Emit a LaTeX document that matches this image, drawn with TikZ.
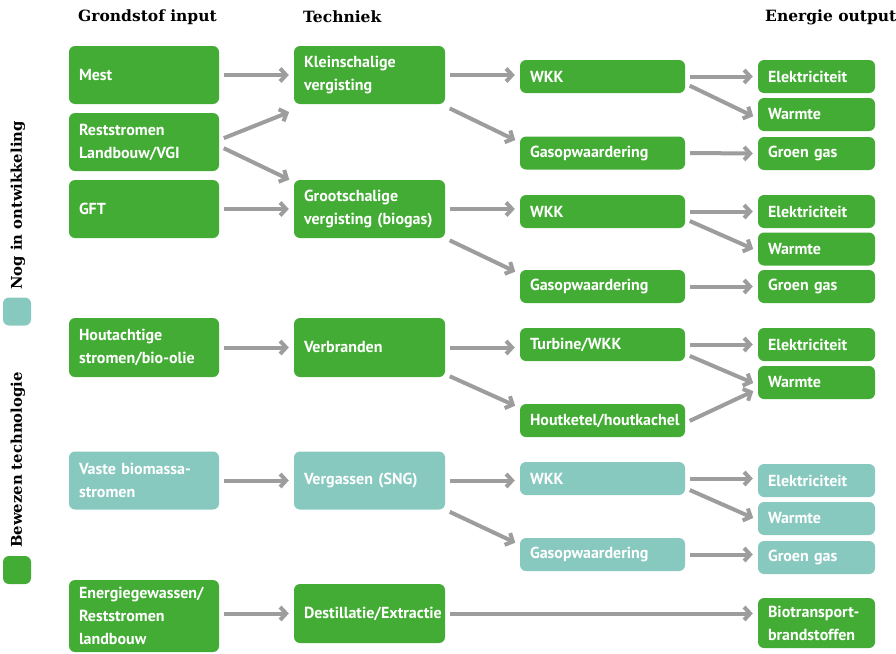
\documentclass[tikz,border=0pt]{standalone}
\usepackage{fontspec}
\setmainfont{PT Sans}
\newfontfamily\headfont{DejaVu Serif}
\usetikzlibrary{arrows.meta}
\definecolor{bewezen}{HTML}{43AC34}
\definecolor{ontw}{HTML}{88C9BF}
\definecolor{pijl}{HTML}{9D9D9D}

\begin{document}
\begin{tikzpicture}[x=1pt, y=-1pt]
  \tikzstyle{box}=[rounded corners=6pt, fill=bewezen, text=white, inner xsep=10pt, inner ysep=0pt, align=left, font=\fontsize{16}{23}\selectfont\bfseries]
  \tikzstyle{nieuw}=[fill=ontw]
  \tikzstyle{inp}=[box, text width=130pt, minimum height=58pt]
  \tikzstyle{tech}=[box, text width=131pt, minimum height=58pt]
  \tikzstyle{conv}=[box, text width=145pt, minimum height=33pt]
  \tikzstyle{outp}=[box, text width=97pt, minimum height=33pt]
  \tikzstyle{head}=[inner sep=0pt, font=\headfont\bfseries\fontsize{15.5}{18}\selectfont]
  \tikzstyle{legend}=[head, rotate=90, anchor=west, font=\headfont\bfseries\fontsize{14.8}{18}\selectfont]
  \tikzstyle{arr}=[draw=pijl, line width=4pt, -{Straight Barb[length=6pt,width=13pt]}, shorten >=5pt, shorten <=5pt]
  \useasboundingbox (0,0) rectangle (896,653);

  \node[head, anchor=west] (hin) at (78,17) {Grondstof input};
  \node[head, anchor=west] (htech) at (303,17) {Techniek};
  \node[head, anchor=west] (hout) at (765,17) {Energie output};

  % legenda
  \node[legend] (lnog) at (18,290) {Nog in ontwikkeling};
  \node[rounded corners=6pt, fill=ontw, minimum size=28pt] (snog) at (17,311.5) {};
  \node[legend] (lbew) at (18,548) {Bewezen technologie};
  \node[rounded corners=6pt, fill=bewezen, minimum size=28pt] (sbew) at (17,570) {};

  % vergisting
  \node[inp] (mest) at (144,75) {Mest};
  \node[inp] (rest) at (144,142) {Reststromen\\Landbouw/VGI};
  \node[inp] (gft) at (144,209) {GFT};
  \node[tech] (klein) at (369.5,75) {Kleinschalige\\vergisting};
  \node[tech] (groot) at (369.5,209) {Grootschalige\\vergisting (biogas)};
  \draw[arr] (mest.east) -- (klein.west |- mest.east);
  \draw[arr] ([yshift=2pt]rest.east) -- ([yshift=-6pt]klein.south west);
  \draw[arr] ([yshift=-4pt]rest.east) -- ([yshift=-2pt]groot.north west);
  \draw[arr] (gft.east) -- (groot.west |- gft.east);

  \node[conv] (wkka) at (602.5,76.5) {WKK};
  \node[conv] (gasa) at (602.5,153) {Gasopwaardering};
  \node[outp] (elka) at (816.5,76.5) {Elektriciteit};
  \node[outp] (warma) at (816.5,114.5) {Warmte};
  \node[outp] (groena) at (816.5,153.5) {Groen gas};
  \draw[arr] (klein.east) -- (wkka.west |- klein.east);
  \draw[arr] ([yshift=-2pt]klein.south east) -- ([yshift=-6pt]gasa.north west);
  \draw[arr] (wkka.east) -- (elka.west);
  \draw[arr] ([yshift=-7pt]wkka.east) -- ([yshift=-4pt]warma.west);
  \draw[arr] (gasa.east) -- (groena.west);

  \node[conv] (wkkb) at (602.5,211.5) {WKK};
  \node[conv] (gasb) at (602.5,286.5) {Gasopwaardering};
  \node[outp] (elkb) at (816.5,211.5) {Elektriciteit};
  \node[outp] (warmb) at (816.5,249) {Warmte};
  \node[outp] (groenb) at (816.5,286.5) {Groen gas};
  \draw[arr] (groot.east) -- (wkkb.west |- groot.east);
  \draw[arr] (groot.south east) -- ([yshift=-4pt]gasb.north west);
  \draw[arr] (wkkb.east) -- (elkb.west);
  \draw[arr] ([yshift=-7.5pt]wkkb.east) -- ([yshift=-2pt]warmb.west);
  \draw[arr] (gasb.east) -- (groenb.west);

  % verbranding
  \node[inp, minimum height=59pt] (houta) at (144,347.5) {Houtachtige\\stromen/bio-olie};
  \node[tech, minimum height=59pt] (verb) at (369.5,347.5) {Verbranden};
  \node[conv] (turb) at (602.5,344.5) {Turbine/WKK};
  \node[conv] (ketel) at (602.5,420.5) {Houtketel/houtkachel};
  \node[outp] (elkc) at (816.5,344.5) {Elektriciteit};
  \node[outp] (warmc) at (816.5,382.5) {Warmte};
  \draw[arr] (houta.east) -- (verb.west);
  \draw[arr] (verb.east) -- (turb.west |- verb.east);
  \draw[arr] ([yshift=3pt]verb.south east) -- ([yshift=-4pt]ketel.north west);
  \draw[arr] (turb.east) -- (elkc.west);
  \draw[arr] ([yshift=-9.5pt]turb.east) -- ([yshift=-2.5pt]warmc.west);
  \draw[arr] ([yshift=-2.5pt]ketel.east) -- ([yshift=-6.5pt]warmc.west);

  % vergassing
  \node[inp, nieuw] (vaste) at (144,480.5) {Vaste biomassa-\\stromen};
  \node[tech, nieuw] (verg) at (369.5,480.5) {Vergassen (SNG)};
  \node[conv, nieuw] (wkkd) at (602.5,478.5) {WKK};
  \node[conv, nieuw] (gasd) at (602.5,554.5) {Gasopwaardering};
  \node[outp, nieuw] (elkd) at (816.5,480.5) {Elektriciteit};
  \node[outp, nieuw] (warmd) at (816.5,518.5) {Warmte};
  \node[outp, nieuw] (groend) at (816.5,557.5) {Groen gas};
  \draw[arr] (vaste.east) -- (verg.west);
  \draw[arr] (verg.east) -- (wkkd.west |- verg.east);
  \draw[arr] (verg.south east) -- ([yshift=-7pt]gasd.north west);
  \draw[arr] (wkkd.east) -- (elkd.west |- wkkd.east);
  \draw[arr] ([yshift=-9.5pt]wkkd.east) -- ([yshift=-1.5pt]warmd.west);
  \draw[arr] (gasd.east) -- (groend.west |- gasd.east);

  % destillatie
  \node[inp, minimum height=72pt] (energie) at (144,616) {Energiegewassen/\\Reststromen\\landbouw};
  \node[tech, minimum height=59pt] (dest) at (369.5,613.5) {Destillatie/Extractie};
  \node[outp, minimum height=50pt] (bio) at (816.5,623) {Biotransport-\\brandstoffen};
  \draw[arr] (energie.east |- dest.east) -- (dest.west);
  \draw[arr] (dest.east) -- (bio.west |- dest.east);
\end{tikzpicture}
\end{document}
